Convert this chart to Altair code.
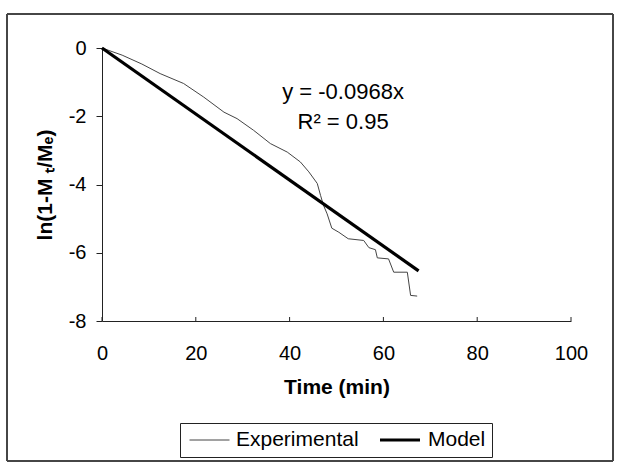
import altair as alt
import pandas as pd

# Experimental curve (time in min, ln(1-Mt/Me))
exp_t = [0.0, 4.3, 8.5, 12.4, 17.4, 21.7, 26.0, 28.8, 32.3, 35.9, 39.5, 42.3, 44.1, 45.9,
         46.6, 47.2, 48.0, 49.0, 50.5, 52.5, 55.8, 56.9, 58.3, 58.7, 61.1, 62.2, 65.1,
         65.8, 67.2]
exp_v = [0.0, -0.21, -0.47, -0.75, -1.04, -1.44, -1.88, -2.07, -2.41, -2.80, -3.05, -3.34,
         -3.63, -3.97, -4.32, -4.60, -4.86, -5.28, -5.40, -5.59, -5.64, -5.85, -5.91, -6.15,
         -6.18, -6.57, -6.57, -7.25, -7.27]

# Model line y = -0.0968x
model_t = [0.0, 67.5]
model_v = [0.0, -6.53]

series_names = ["Experimental", "Model"]
series_colors = ["#444444", "#000000"]
series_widths = [1.0, 3.2]

x_ticks = [0, 20, 40, 60, 80, 100]
y_ticks = [-8, -6, -4, -2, 0]

ann_text = ["y = -0.0968x", "R² = 0.95"]
ann_t = [51.4, 51.4]
ann_v = [-1.29, -2.17]

W, H = 469, 273
FONT = "Liberation Sans"

df = pd.concat([
    pd.DataFrame({"t": exp_t, "v": exp_v, "series": series_names[0], "order": range(len(exp_t))}),
    pd.DataFrame({"t": model_t, "v": model_v, "series": series_names[1], "order": range(len(model_t))}),
])

xscale = alt.Scale(domain=[0, 100], nice=False, zero=False)
yscale = alt.Scale(domain=[-8, 0], nice=False, zero=False)

legend_opts = dict(title=None, orient="none", legendX=78, legendY=375,
                   direction="horizontal", strokeColor="#222222", padding=6,
                   symbolType="stroke", symbolSize=1600, clipHeight=22, symbolOffset=3,
                   labelFontSize=21, labelFont=FONT, labelColor="#000000",
                   columnPadding=16, labelOffset=6)

lines = alt.Chart(df).mark_line(clip=False).encode(
    x=alt.X("t:Q", scale=xscale,
            axis=alt.Axis(values=x_ticks, title="Time (min)", ticks=False, grid=False,
                          labelFlush=False, labelOverlap=False,
                          labelPadding=22, titlePadding=13, domainColor="#222222",
                          labelFontSize=20, titleFontSize=21, titleFontWeight="bold",
                          labelColor="#000000", titleColor="#000000", labelFont=FONT,
                          titleFont=FONT)),
    y=alt.Y("v:Q", scale=yscale,
            axis=alt.Axis(values=y_ticks, title="ln(1-M ₜ/Mₑ)", grid=False, tickSize=6,
                          labelExpr="datum.value + ''", labelFlush=False,
                          labelPadding=10, titlePadding=13, domainColor="#222222",
                          tickColor="#222222", labelFontSize=20, titleFontSize=21,
                          titleFontWeight="bold", labelColor="#000000",
                          titleColor="#000000", labelFont=FONT, titleFont=FONT)),
    color=alt.Color("series:N", scale=alt.Scale(domain=series_names, range=series_colors),
                    legend=alt.Legend(**legend_opts)),
    strokeWidth=alt.StrokeWidth("series:N",
                                scale=alt.Scale(domain=series_names, range=series_widths),
                                legend=alt.Legend(**legend_opts)),
    order="order:Q",
)

tick_df = pd.DataFrame({"t": x_ticks})
xticks = alt.Chart(tick_df).mark_rule(color="#222222", strokeWidth=1).encode(
    x=alt.X("t:Q", scale=xscale),
    y=alt.value(H - 4),
    y2=alt.value(H),
)

ann_df = pd.DataFrame({"t": ann_t, "v": ann_v, "label": ann_text})
ann = alt.Chart(ann_df).mark_text(fontSize=22, font=FONT, color="#000000",
                                  align="center", baseline="middle").encode(
    x=alt.X("t:Q", scale=xscale),
    y=alt.Y("v:Q", scale=yscale),
    text="label:N",
)

frame = alt.Chart(tick_df).mark_rect(fill=None, stroke="#444444", strokeWidth=1).encode(
    x=alt.value(-95), x2=alt.value(511), y=alt.value(-34), y2=alt.value(413)
)

chart = alt.layer(frame, xticks, lines, ann).properties(
    width=W, height=H,
    autosize=alt.AutoSizeParams(type="none"),
    padding={"left": 102, "top": 48, "right": 620 - 102 - W, "bottom": 468 - 48 - H},
    background="white",
).configure_view(stroke=None)

chart.save("out.html", embed_options={"renderer": "svg", "actions": False})
